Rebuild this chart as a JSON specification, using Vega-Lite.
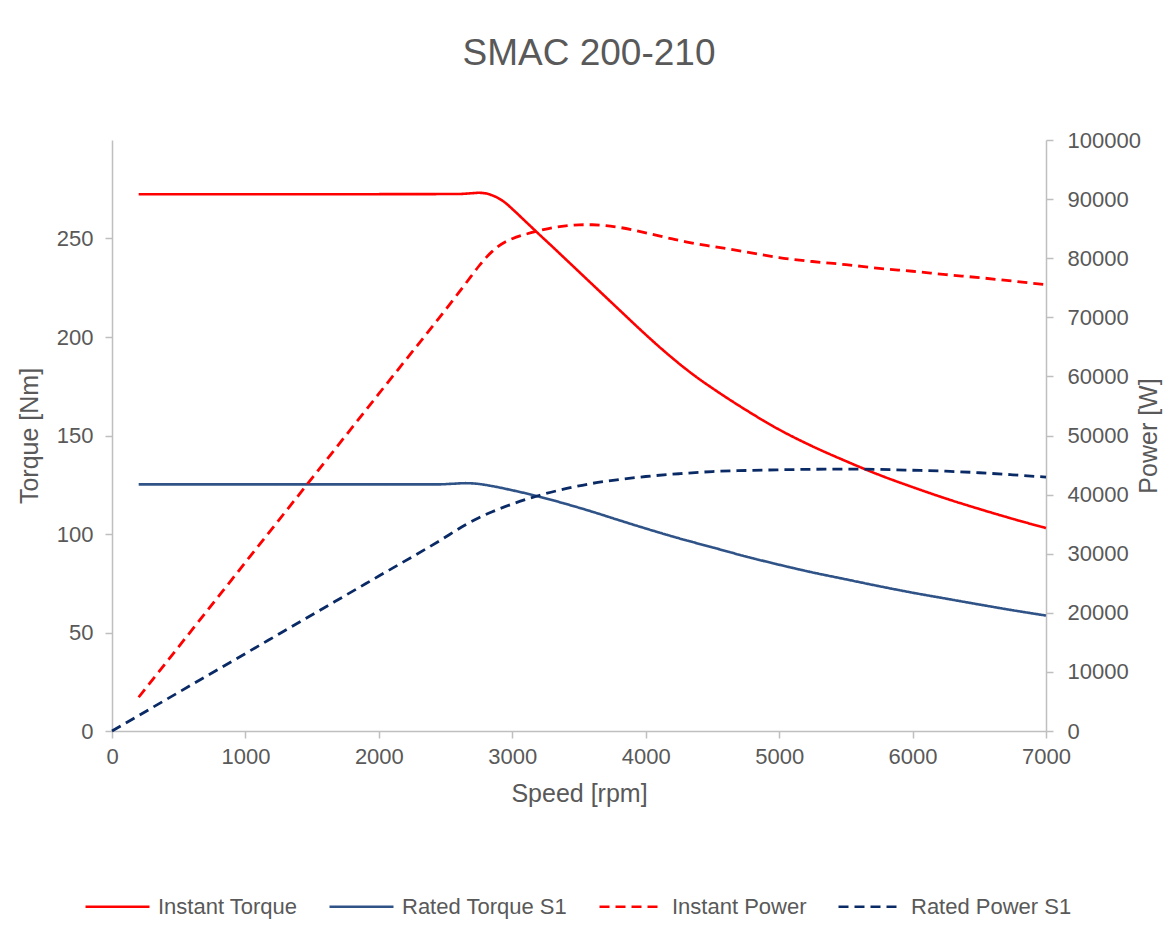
{
  "$schema": "https://vega.github.io/schema/vega-lite/v6.json",
  "width": 934,
  "height": 591,
  "autosize": {"type": "none"},
  "padding": {"left": 112, "top": 140, "right": 117, "bottom": 207},
  "background": "white",
  "title": {
    "text": "SMAC 200-210",
    "font": "Liberation Sans",
    "fontSize": 37,
    "fontWeight": "normal",
    "color": "#595959",
    "anchor": "middle",
    "dx": 10,
    "offset": 56
  },
  "config": {
    "view": {"stroke": null},
    "axis": {
      "domainColor": "#bfbfbf",
      "tickColor": "#bfbfbf",
      "domainWidth": 1.5,
      "tickWidth": 1.5,
      "tickSize": 7,
      "grid": false,
      "labelColor": "#595959",
      "titleColor": "#595959",
      "labelFont": "Liberation Sans",
      "titleFont": "Liberation Sans",
      "labelFontSize": 22,
      "titleFontSize": 25,
      "titleFontWeight": "normal",
      "labelFlush": false
    },
    "legend": {
      "labelFont": "Liberation Sans",
      "labelFontSize": 22,
      "labelColor": "#595959",
      "labelLimit": 400
    }
  },
  "datasets": {
    "torque": [
      {"series": "Instant Torque", "speed": 200, "value": 272.5},
      {"series": "Instant Torque", "speed": 1000, "value": 272.5},
      {"series": "Instant Torque", "speed": 2000, "value": 272.5},
      {"series": "Instant Torque", "speed": 2600, "value": 272.6},
      {"series": "Instant Torque", "speed": 2700, "value": 273.0},
      {"series": "Instant Torque", "speed": 2750, "value": 273.2},
      {"series": "Instant Torque", "speed": 2800, "value": 272.9},
      {"series": "Instant Torque", "speed": 2850, "value": 271.9},
      {"series": "Instant Torque", "speed": 2900, "value": 270.3},
      {"series": "Instant Torque", "speed": 2950, "value": 268.0},
      {"series": "Instant Torque", "speed": 3000, "value": 265.0},
      {"series": "Instant Torque", "speed": 3100, "value": 258.6},
      {"series": "Instant Torque", "speed": 3200, "value": 252.2},
      {"series": "Instant Torque", "speed": 3300, "value": 245.9},
      {"series": "Instant Torque", "speed": 3400, "value": 239.5},
      {"series": "Instant Torque", "speed": 3500, "value": 233.1},
      {"series": "Instant Torque", "speed": 3600, "value": 226.7},
      {"series": "Instant Torque", "speed": 3700, "value": 220.3},
      {"series": "Instant Torque", "speed": 3800, "value": 213.9},
      {"series": "Instant Torque", "speed": 3900, "value": 207.5},
      {"series": "Instant Torque", "speed": 4000, "value": 201.2},
      {"series": "Instant Torque", "speed": 4100, "value": 195.1},
      {"series": "Instant Torque", "speed": 4200, "value": 189.3},
      {"series": "Instant Torque", "speed": 4300, "value": 183.8},
      {"series": "Instant Torque", "speed": 4400, "value": 178.7},
      {"series": "Instant Torque", "speed": 4500, "value": 174.0},
      {"series": "Instant Torque", "speed": 4750, "value": 163.0},
      {"series": "Instant Torque", "speed": 5000, "value": 153.0},
      {"series": "Instant Torque", "speed": 5250, "value": 144.5},
      {"series": "Instant Torque", "speed": 5500, "value": 137.0},
      {"series": "Instant Torque", "speed": 5750, "value": 130.0},
      {"series": "Instant Torque", "speed": 6000, "value": 123.8},
      {"series": "Instant Torque", "speed": 6250, "value": 118.0},
      {"series": "Instant Torque", "speed": 6500, "value": 112.7},
      {"series": "Instant Torque", "speed": 6750, "value": 107.7},
      {"series": "Instant Torque", "speed": 7000, "value": 103.0},
      {"series": "Rated Torque S1", "speed": 200, "value": 125.2},
      {"series": "Rated Torque S1", "speed": 1000, "value": 125.2},
      {"series": "Rated Torque S1", "speed": 2000, "value": 125.2},
      {"series": "Rated Torque S1", "speed": 2450, "value": 125.2},
      {"series": "Rated Torque S1", "speed": 2550, "value": 125.5},
      {"series": "Rated Torque S1", "speed": 2650, "value": 125.8},
      {"series": "Rated Torque S1", "speed": 2750, "value": 125.4},
      {"series": "Rated Torque S1", "speed": 2850, "value": 124.3},
      {"series": "Rated Torque S1", "speed": 3000, "value": 122.2},
      {"series": "Rated Torque S1", "speed": 3200, "value": 119.0},
      {"series": "Rated Torque S1", "speed": 3400, "value": 115.3},
      {"series": "Rated Torque S1", "speed": 3600, "value": 111.3},
      {"series": "Rated Torque S1", "speed": 3800, "value": 107.0},
      {"series": "Rated Torque S1", "speed": 4000, "value": 102.8},
      {"series": "Rated Torque S1", "speed": 4250, "value": 97.8},
      {"series": "Rated Torque S1", "speed": 4500, "value": 93.2},
      {"series": "Rated Torque S1", "speed": 4750, "value": 88.6},
      {"series": "Rated Torque S1", "speed": 5000, "value": 84.4},
      {"series": "Rated Torque S1", "speed": 5250, "value": 80.5},
      {"series": "Rated Torque S1", "speed": 5500, "value": 77.0},
      {"series": "Rated Torque S1", "speed": 5750, "value": 73.5},
      {"series": "Rated Torque S1", "speed": 6000, "value": 70.2},
      {"series": "Rated Torque S1", "speed": 6250, "value": 67.2},
      {"series": "Rated Torque S1", "speed": 6500, "value": 64.2},
      {"series": "Rated Torque S1", "speed": 6750, "value": 61.3},
      {"series": "Rated Torque S1", "speed": 7000, "value": 58.6}
    ],
    "power": [
      {"series": "Instant Power", "speed": 200, "value": 5710},
      {"series": "Instant Power", "speed": 1000, "value": 28540},
      {"series": "Instant Power", "speed": 2000, "value": 57070},
      {"series": "Instant Power", "speed": 2600, "value": 74220},
      {"series": "Instant Power", "speed": 2700, "value": 77190},
      {"series": "Instant Power", "speed": 2750, "value": 78680},
      {"series": "Instant Power", "speed": 2800, "value": 80020},
      {"series": "Instant Power", "speed": 2850, "value": 81150},
      {"series": "Instant Power", "speed": 2900, "value": 82090},
      {"series": "Instant Power", "speed": 2950, "value": 82790},
      {"series": "Instant Power", "speed": 3000, "value": 83300},
      {"series": "Instant Power", "speed": 3100, "value": 84050},
      {"series": "Instant Power", "speed": 3200, "value": 84650},
      {"series": "Instant Power", "speed": 3300, "value": 85150},
      {"series": "Instant Power", "speed": 3400, "value": 85480},
      {"series": "Instant Power", "speed": 3500, "value": 85650},
      {"series": "Instant Power", "speed": 3600, "value": 85660},
      {"series": "Instant Power", "speed": 3700, "value": 85520},
      {"series": "Instant Power", "speed": 3800, "value": 85220},
      {"series": "Instant Power", "speed": 3900, "value": 84800},
      {"series": "Instant Power", "speed": 4000, "value": 84300},
      {"series": "Instant Power", "speed": 4100, "value": 83770},
      {"series": "Instant Power", "speed": 4200, "value": 83260},
      {"series": "Instant Power", "speed": 4300, "value": 82770},
      {"series": "Instant Power", "speed": 4400, "value": 82340},
      {"series": "Instant Power", "speed": 4500, "value": 81990},
      {"series": "Instant Power", "speed": 4750, "value": 81080},
      {"series": "Instant Power", "speed": 5000, "value": 80110},
      {"series": "Instant Power", "speed": 5250, "value": 79440},
      {"series": "Instant Power", "speed": 5500, "value": 78910},
      {"series": "Instant Power", "speed": 5750, "value": 78280},
      {"series": "Instant Power", "speed": 6000, "value": 77790},
      {"series": "Instant Power", "speed": 6250, "value": 77230},
      {"series": "Instant Power", "speed": 6500, "value": 76710},
      {"series": "Instant Power", "speed": 6750, "value": 76130},
      {"series": "Instant Power", "speed": 7000, "value": 75500},
      {"series": "Rated Power S1", "speed": 0, "value": 0},
      {"series": "Rated Power S1", "speed": 200, "value": 2620},
      {"series": "Rated Power S1", "speed": 1000, "value": 13110},
      {"series": "Rated Power S1", "speed": 2000, "value": 26220},
      {"series": "Rated Power S1", "speed": 2450, "value": 32120},
      {"series": "Rated Power S1", "speed": 2650, "value": 34900},
      {"series": "Rated Power S1", "speed": 2750, "value": 36100},
      {"series": "Rated Power S1", "speed": 2850, "value": 37100},
      {"series": "Rated Power S1", "speed": 3000, "value": 38400},
      {"series": "Rated Power S1", "speed": 3200, "value": 39850},
      {"series": "Rated Power S1", "speed": 3400, "value": 41000},
      {"series": "Rated Power S1", "speed": 3600, "value": 41900},
      {"series": "Rated Power S1", "speed": 3800, "value": 42550},
      {"series": "Rated Power S1", "speed": 4000, "value": 43060},
      {"series": "Rated Power S1", "speed": 4250, "value": 43530},
      {"series": "Rated Power S1", "speed": 4500, "value": 43900},
      {"series": "Rated Power S1", "speed": 4750, "value": 44080},
      {"series": "Rated Power S1", "speed": 5000, "value": 44200},
      {"series": "Rated Power S1", "speed": 5250, "value": 44280},
      {"series": "Rated Power S1", "speed": 5500, "value": 44320},
      {"series": "Rated Power S1", "speed": 5750, "value": 44260},
      {"series": "Rated Power S1", "speed": 6000, "value": 44120},
      {"series": "Rated Power S1", "speed": 6250, "value": 43960},
      {"series": "Rated Power S1", "speed": 6500, "value": 43700},
      {"series": "Rated Power S1", "speed": 6750, "value": 43350},
      {"series": "Rated Power S1", "speed": 7000, "value": 42960}
    ]
  },
  "layer": [
    {
      "data": {"name": "torque"},
      "mark": {"type": "line", "strokeWidth": 2.6, "interpolate": "monotone"},
      "encoding": {
        "x": {
          "field": "speed", "type": "quantitative",
          "scale": {"domain": [0, 7000], "nice": false},
          "axis": {"title": "Speed [rpm]", "values": [0, 1000, 2000, 3000, 4000, 5000, 6000, 7000], "format": "d", "labelPadding": 8, "titlePadding": 14}
        },
        "y": {
          "field": "value", "type": "quantitative",
          "scale": {"domain": [0, 300], "nice": false},
          "axis": {"title": "Torque [Nm]", "orient": "left", "values": [0, 50, 100, 150, 200, 250], "labelPadding": 12, "titlePadding": 14}
        },
        "color": {
          "field": "series", "type": "nominal",
          "scale": {"domain": ["Instant Torque", "Rated Torque S1", "Instant Power", "Rated Power S1"], "range": ["#ff0000", "#2f5287", "#ff0000", "#0a2a66"]},
          "legend": {"title": null, "orient": "none", "legendX": -28, "legendY": 733, "direction": "horizontal", "symbolType": "stroke", "symbolSize": 4096, "symbolStrokeWidth": 2.6, "labelOffset": 7, "columnPadding": 26}
        },
        "strokeDash": {
          "field": "series", "type": "nominal",
          "scale": {"domain": ["Instant Torque", "Rated Torque S1", "Instant Power", "Rated Power S1"], "range": [[1, 0], [1, 0], [10, 6], [10, 6]]},
          "legend": {"title": null, "orient": "none", "legendX": -28, "legendY": 733, "direction": "horizontal", "symbolType": "stroke", "symbolSize": 4096, "symbolStrokeWidth": 2.6, "labelOffset": 7, "columnPadding": 26}
        }
      }
    },
    {
      "data": {"name": "power"},
      "mark": {"type": "line", "strokeWidth": 2.8, "interpolate": "monotone"},
      "encoding": {
        "x": {"field": "speed", "type": "quantitative"},
        "y": {
          "field": "value", "type": "quantitative",
          "scale": {"domain": [0, 100000], "nice": false},
          "axis": {"title": "Power [W]", "orient": "right", "values": [0, 10000, 20000, 30000, 40000, 50000, 60000, 70000, 80000, 90000, 100000], "format": "d", "labelPadding": 14, "titleAngle": 270, "titlePadding": 21}
        },
        "color": {"field": "series", "type": "nominal"},
        "strokeDash": {"field": "series", "type": "nominal"}
      }
    }
  ],
  "resolve": {"scale": {"y": "independent"}}
}
